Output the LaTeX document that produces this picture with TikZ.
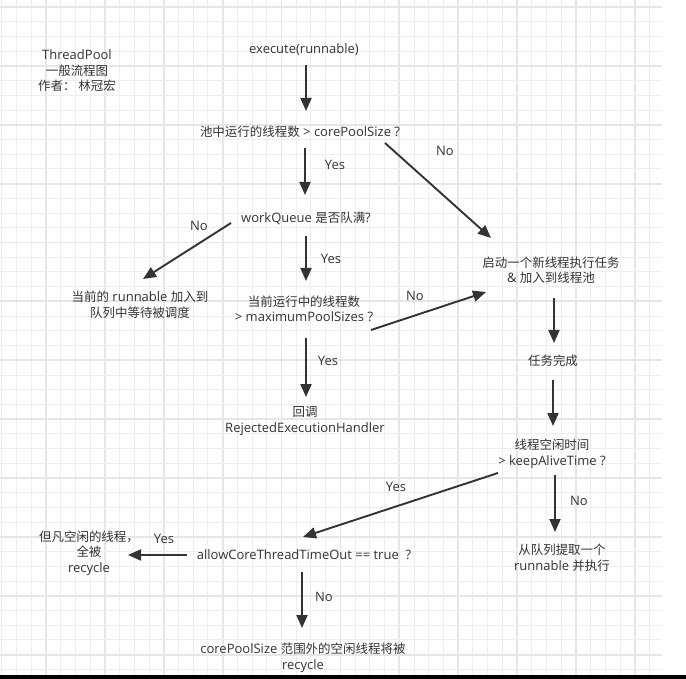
\documentclass[tikz,border=0pt]{standalone}
\usepackage{fontspec}
\setmainfont{Open Sans}
\newfontfamily\cjk[Scale=0.96]{Noto Sans CJK SC}
\usetikzlibrary{arrows.meta,calc}
\definecolor{ink}{HTML}{333333}
\definecolor{gridminor}{HTML}{EEEEEE}
\definecolor{gridmajor}{HTML}{E6E6E6}
\tikzset{
  txt/.style={inner sep=0pt, align=center, text=ink, font=\fontsize{13}{15.5}\selectfont},
  lbl/.style={inner sep=0pt, text=ink, font=\fontsize{13}{15.5}\selectfont},
  flow/.style={draw=ink, line width=1.9pt, -{Triangle[length=13pt,width=11pt]}},
}
\begin{document}
\begin{tikzpicture}[x=1pt,y=-1pt]
\useasboundingbox (0,0) rectangle (686,679);
\fill[white] (0,0) rectangle (686,679);
% grid
\foreach \k in {0,...,44} {
  \pgfmathtruncatemacro{\m}{mod(\k,4)}
  \ifnum\m=3 \def\gc{gridmajor}\def\gw{1.8pt}\else\def\gc{gridminor}\def\gw{1pt}\fi
  \draw[\gc, line width=\gw] ({1.84+14.72*\k},0) -- ({1.84+14.72*\k},675);
}
\foreach \k in {0,...,45} {
  \pgfmathtruncatemacro{\m}{mod(\k,4)}
  \ifnum\m=0 \def\gc{gridmajor}\def\gw{1.8pt}\else\def\gc{gridminor}\def\gw{1pt}\fi
  \draw[\gc, line width=\gw] (0,{7+14.72*\k}) -- (662,{7+14.72*\k});
}
\fill[black] (0,675) rectangle (686,679);

% nodes
\node[txt] (title) at (77,71) {ThreadPool\\{\cjk 一般流程图}\\{\cjk 作者：\ 林冠宏}};
\node[txt] (exec) at (304,50) {execute(runnable)};
\node[txt] (core) at (300,132) {{\cjk 池中运行的线程数} > corePoolSize ?};
\node[txt] (wq) at (306,218) {workQueue {\cjk 是否队满}?};
\node[txt] (queue) at (140,305) {{\cjk 当前的} runnable {\cjk 加入到}\\{\cjk 队列中等待被调度}};
\node[txt] (maxq) at (304,309) {{\cjk 当前运行中的线程数}\\> maximumPoolSizes ?};
\node[txt] (start) at (551,270) {{\cjk 启动一个新线程执行任务}\\\& {\cjk 加入到线程池}};
\node[txt] (done) at (553,361) {{\cjk 任务完成}};
\node[txt] (keep) at (552,454) {{\cjk 线程空闲时间}\\> keepAliveTime ?};
\node[txt] (fetch) at (562,558) {{\cjk 从队列提取一个}\\runnable {\cjk 并执行}};
\node[txt] (reject) at (305,421) {{\cjk 回调}\\RejectedExecutionHandler};
\node[txt] (allow) at (304,555) {allowCoreThreadTimeOut == true\ \ ?};
\node[txt] (recyc) at (89,553) {{\cjk 但凡空闲的线程，}\\{\cjk 全被}\\recycle};
\node[txt] (outside) at (303,658) {corePoolSize {\cjk 范围外的空闲线程将被}\\recycle};

% labels
\node[lbl] (y1) at (335,165) {Yes};
\node[lbl] (n1) at (445,151) {No};
\node[lbl] (y2) at (331,259) {Yes};
\node[lbl] (n2) at (199,226) {No};
\node[lbl] (n3) at (415,296) {No};
\node[lbl] (y3) at (328,361) {Yes};
\node[lbl] (y4) at (396,487) {Yes};
\node[lbl] (n4) at (579,501) {No};
\node[lbl] (y5) at (164,539) {Yes};
\node[lbl] (n5) at (324,597) {No};

% connectors
\draw[flow] ([shift={(2,15)}]exec.center) -- ([shift={(6,-21)}]core.center);
\draw[flow] ([shift={(5,16)}]core.center) -- ([shift={(-1,-23)}]wq.center);
\draw[flow] ([shift={(85,11)}]core.center) -- ([shift={(-60,-32)}]start.center);
\draw[flow] ([shift={(0,18)}]wq.center) -- ([shift={(2,-28)}]maxq.center);
\draw[flow] ([shift={(-75,5)}]wq.center) -- ([shift={(3,-26)}]queue.center);
\draw[flow] ([shift={(67,21)}]maxq.center) -- ([shift={(-65,22)}]start.center);
\draw[flow] ([shift={(2,29)}]maxq.center) -- ([shift={(1,-24)}]reject.center);
\draw[flow] ([shift={(3,28)}]start.center) -- ([shift={(1,-18)}]done.center);
\draw[flow] ([shift={(0,19)}]done.center) -- ([shift={(1,-28)}]keep.center);
\draw[flow] ([shift={(3,21)}]keep.center) -- ([shift={(-7,-26)}]fetch.center);
\draw[flow] ([shift={(-54,19)}]keep.center) -- ([shift={(-1,-18)}]allow.center);
\draw[flow] ([shift={(-117,0)}]allow.center) -- ([shift={(39,2)}]recyc.center);
\draw[flow] ([shift={(-2,17)}]allow.center) -- ([shift={(-1,-30)}]outside.center);
\end{tikzpicture}
\end{document}
